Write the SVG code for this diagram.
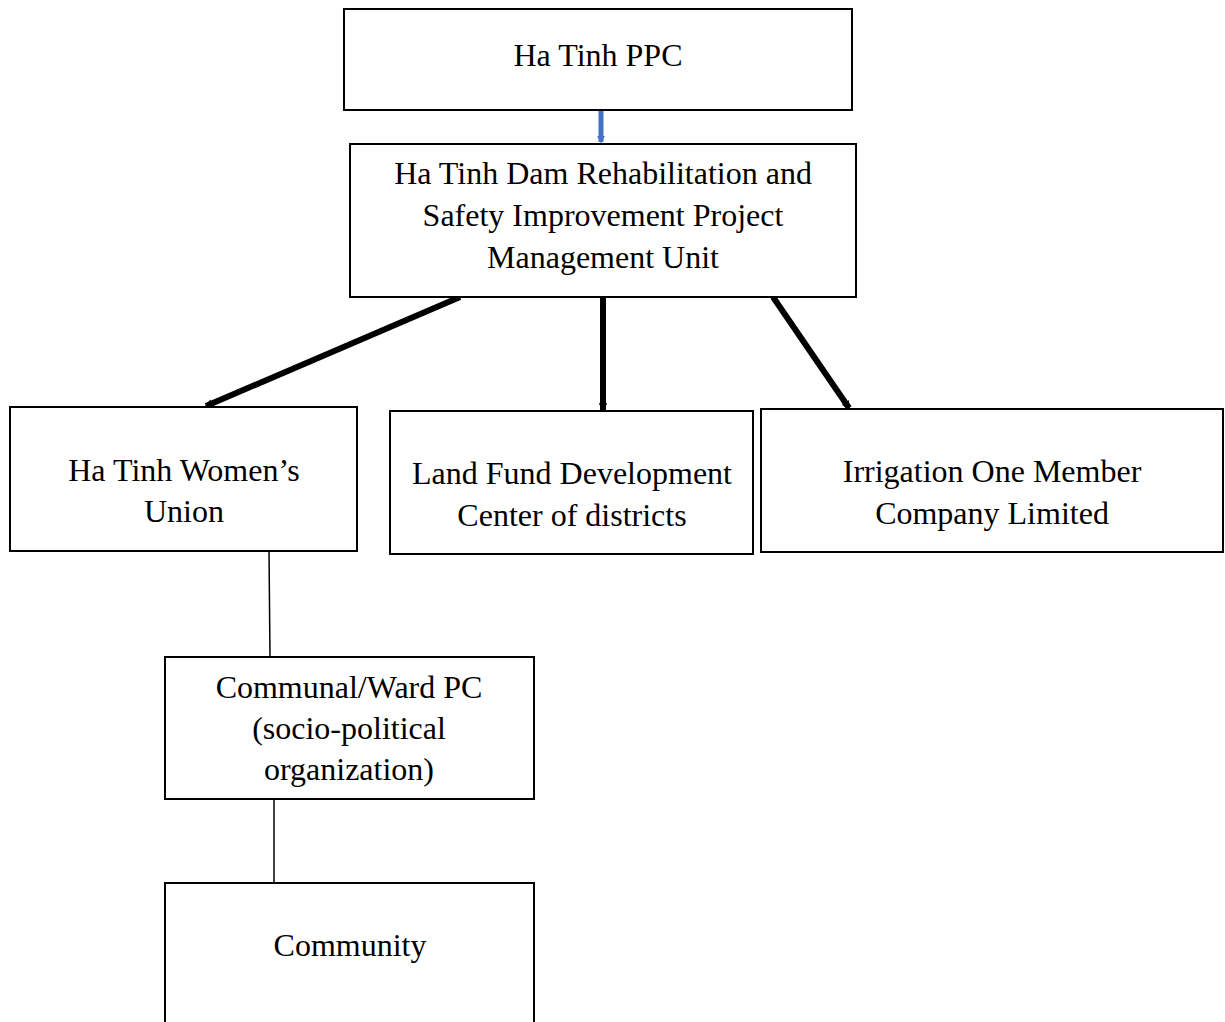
<svg xmlns="http://www.w3.org/2000/svg" width="1225" height="1022" viewBox="0 0 1225 1022">
<style>
.box{fill:#fff;stroke:#000;stroke-width:2}
.t{font-family:"Liberation Serif","Times New Roman",serif;font-size:32px;fill:#000;text-anchor:middle}
.thick{stroke:#000;stroke-width:6;fill:none}
.thin{stroke:#000;stroke-width:1.5;fill:none}
</style>
<defs>
<marker id="ah" viewBox="0 0 10 10" refX="8" refY="5" markerWidth="1.4" markerHeight="1.4" orient="auto"><path d="M0,0 L10,5 L0,10 z" fill="#000"/></marker>
<marker id="ahb" viewBox="0 0 10 10" refX="8" refY="5" markerWidth="1.6" markerHeight="1.6" orient="auto"><path d="M0,0 L10,5 L0,10 z" fill="#4472C4"/></marker>
</defs>
<rect width="1225" height="1022" fill="#fff"/>
<g id="connectors">
<line x1="601" y1="110" x2="601" y2="142" stroke="#4472C4" stroke-width="5" marker-end="url(#ahb)"/>
<line class="thick" x1="460" y1="297" x2="206" y2="406" marker-end="url(#ah)"/>
<line class="thick" x1="603" y1="297" x2="603" y2="410" marker-end="url(#ah)"/>
<line class="thick" x1="773" y1="297" x2="849" y2="408" marker-end="url(#ah)"/>
<line class="thin" x1="269" y1="551" x2="270" y2="657" stroke="#555"/>
<line class="thin" x1="274" y1="799" x2="274" y2="883"/>
</g>
<g id="ppc">
<rect class="box" x="344" y="9" width="508" height="101"/>
<text class="t" x="598" y="66">Ha Tinh PPC</text>
</g>
<g id="pmu">
<rect class="box" x="350" y="144" width="506" height="153"/>
<text class="t" x="603" y="184">Ha Tinh Dam Rehabilitation and</text>
<text class="t" x="603" y="226">Safety Improvement Project</text>
<text class="t" x="603" y="268">Management Unit</text>
</g>
<g id="women">
<rect class="box" x="10" y="407" width="347" height="144"/>
<text class="t" x="184" y="481">Ha Tinh Women’s</text>
<text class="t" x="184" y="522">Union</text>
</g>
<g id="landfund">
<rect class="box" x="390" y="411" width="363" height="143"/>
<text class="t" x="572" y="484">Land Fund Development</text>
<text class="t" x="572" y="526">Center of districts</text>
</g>
<g id="irrigation">
<rect class="box" x="761" y="409" width="462" height="143"/>
<text class="t" x="992" y="482">Irrigation One Member</text>
<text class="t" x="992" y="524">Company Limited</text>
</g>
<g id="communal">
<rect class="box" x="165" y="657" width="369" height="142"/>
<text class="t" x="349" y="698">Communal/Ward PC</text>
<text class="t" x="349" y="739">(socio-political</text>
<text class="t" x="349" y="780">organization)</text>
</g>
<g id="community">
<rect class="box" x="165" y="883" width="369" height="150"/>
<text class="t" x="350" y="956">Community</text>
</g>
</svg>
